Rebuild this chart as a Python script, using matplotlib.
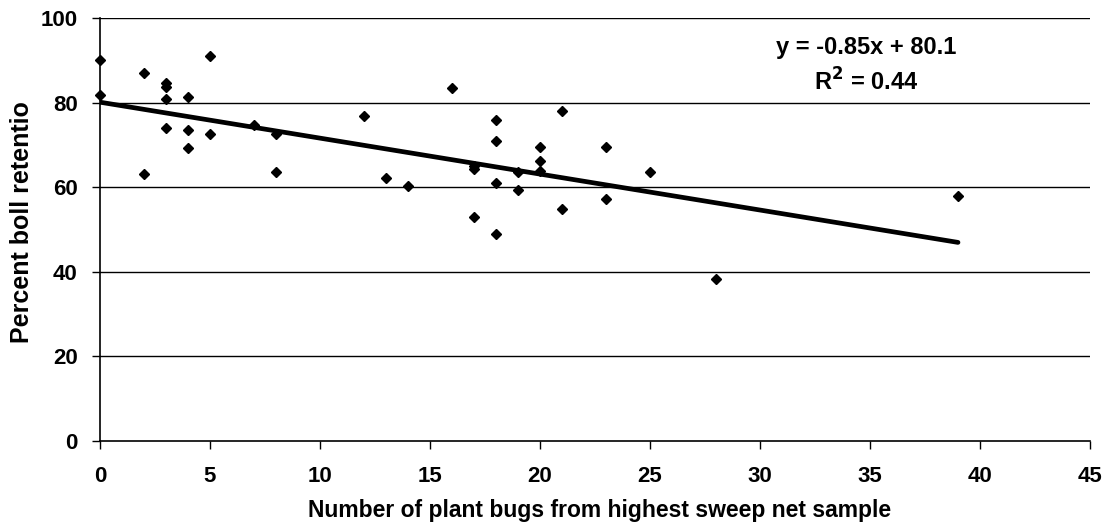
import matplotlib
matplotlib.use("Agg")
import matplotlib.pyplot as plt
import numpy as np

plt.rcParams['font.family'] = ['Liberation Sans', 'DejaVu Sans']

bugs = [0, 0, 2, 2, 3, 3, 3, 3, 4, 4, 4, 5, 5, 7, 8, 8, 12, 13, 14, 16,
        17, 17, 17, 18, 18, 18, 18, 19, 19, 20, 20, 20, 21, 21, 23, 23, 25, 28, 39]
retention = [90.1, 81.8, 86.9, 63.1, 84.7, 83.6, 80.9, 74.1, 81.4, 73.6, 69.2, 91.1, 72.5,
             74.7, 72.5, 63.6, 76.9, 62.1, 60.4, 83.5,
             65.0, 64.2, 53.0, 75.9, 70.9, 60.9, 48.9, 63.7, 59.4, 69.4, 66.1, 63.9,
             78.0, 54.9, 69.4, 57.1, 63.7, 38.4, 58.0]
slope = -0.85
intercept = 80.1
r2 = 0.44
x_ticks = [0, 5, 10, 15, 20, 25, 30, 35, 40, 45]
y_ticks = [0, 20, 40, 60, 80, 100]

W, H = 1112, 532
fig = plt.figure(figsize=(W/100, H/100), dpi=100)
ax = fig.add_axes([100/W, 1-441/H, (1090-100)/W, (441-18)/H])

ax.set_xlim(0, 45)
ax.set_ylim(0, 100)
for yv in y_ticks[1:]:
    ax.axhline(yv, color='black', lw=1.0, zorder=1)

ax.plot(bugs, retention, linestyle='none', marker='D', markersize=5.6,
        color='black', zorder=3, clip_on=False)

xs = np.array(sorted(set(bugs)), dtype=float)
ax.plot(xs, slope*xs + intercept, color='black', lw=3.4, zorder=2,
        solid_capstyle='round')

fig.text(866/W, 1-47.5/H, f"y = {slope:.2f}x + {intercept:.1f}",
         ha='center', va='center', fontsize=17, fontweight='bold')
fig.text(866/W, 1-81.5/H, f"R$^\\mathbf{{2}}$ = {r2:.2f}",
         ha='center', va='center', fontsize=17, fontweight='bold')

ax.set_xticks(x_ticks)
ax.set_yticks(y_ticks)
ax.tick_params(axis='both', direction='out', length=6, width=1, color='black',
               labelsize=16)
ax.tick_params(axis='x', pad=12)
ax.tick_params(axis='y', pad=10)
for lab in ax.get_xticklabels() + ax.get_yticklabels():
    lab.set_fontweight('bold')

ax.spines['top'].set_visible(False)
ax.spines['right'].set_visible(False)
ax.spines['left'].set_linewidth(1.2)
ax.spines['bottom'].set_linewidth(1.2)

fig.text(600/W, 1-511/H, "Number of plant bugs from highest sweep net sample",
         ha='center', va='center', fontsize=16.5, fontweight='bold')
fig.text(22/W, 1-222/H, "Percent boll retentio", rotation=90,
         ha='center', va='center', fontsize=18, fontweight='bold')

fig.savefig("out.png", dpi=100, facecolor='white')
